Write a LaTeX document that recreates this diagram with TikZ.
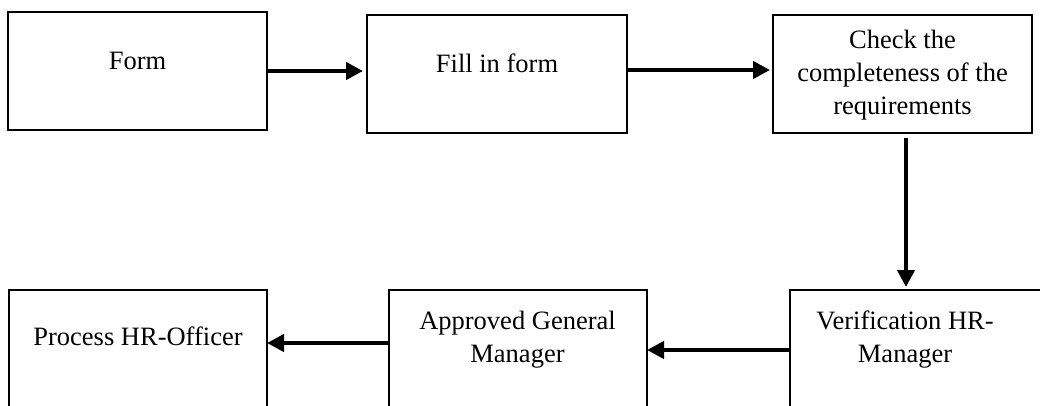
\documentclass[tikz,border=0pt]{standalone}
\usepackage{fontspec}
\setmainfont{Liberation Serif}
\usetikzlibrary{arrows.meta}
\begin{document}
\begin{tikzpicture}[x=1pt,y=-1pt,
  box/.style={draw=black,line width=2.2pt,inner sep=0pt,outer sep=0pt},
  txt/.style={font=\fontsize{26.5}{33}\selectfont,align=center,anchor=base,inner sep=0pt},
  arr/.style={line width=4.2pt,-{Triangle[length=17pt,width=17pt]}}]
\useasboundingbox (0,0) rectangle (1040,405);
\clip (0,0) rectangle (1040,405);

% top row
\node[box,minimum width=259pt,minimum height=118pt] (form)  at (137.5,71) {};
\node[box,minimum width=260pt,minimum height=118pt] (fill)  at (497,74) {};
\node[box,minimum width=259pt,minimum height=118pt] (check) at (902.5,74) {};
% bottom row (runs past the lower and right edges)
\node[box,minimum width=270pt,minimum height=120pt] (verif) at (925,350) {};
\node[box,minimum width=258pt,minimum height=120pt] (appr)  at (518,350) {};
\node[box,minimum width=258pt,minimum height=120pt] (proc)  at (138,350) {};

% labels (base anchor sits on the last line)
\node[txt] (tform)  at (137.5,69) {Form};
\node[txt] (tfill)  at (497,72)   {Fill in form};
\node[txt] (tcheck) at (902.5,114) {Check the\\completeness of the\\requirements};
\node[txt] (tverif) at (905,362)  {Verification HR-\\Manager};
\node[txt] (tappr)  at (517.5,362){Approved General\\Manager};
\node[txt] (tproc)  at (138,345)  {Process HR-Officer};

% flow
\draw[arr,shorten >=4pt] (form.east) -- (form.east -| fill.west);
\draw[arr,shorten >=3pt] ([yshift=4pt]fill.east) -- ([yshift=4pt]fill.east -| check.west);
\draw[arr,shorten <=5pt,shorten >=3pt] ([xshift=3.5pt]check.south) -- ([xshift=3.5pt]check.south |- verif.north);
\draw[arr] (verif.west) -- (verif.west -| appr.east);
\draw[arr] ([yshift=7pt]appr.west) -- ([yshift=7pt]appr.west -| proc.east);
\end{tikzpicture}
\end{document}
